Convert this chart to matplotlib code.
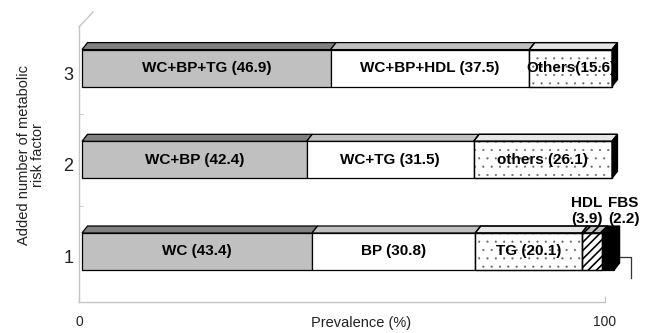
import matplotlib
matplotlib.use('Agg')
import matplotlib.pyplot as plt
from matplotlib.patches import Polygon
from matplotlib.lines import Line2D
from matplotlib.transforms import ScaledTranslation
import numpy as np

plt.rcParams['font.family'] = ['Liberation Sans', 'DejaVu Sans']
plt.rcParams['hatch.linewidth'] = 0.3

# data
rows = [1, 2, 3]
row_values = [
    [43.4, 30.8, 20.1, 3.9, 2.2],
    [42.4, 31.5, 26.1],
    [46.9, 37.5, 15.6],
]
row_labels = [
    ['WC (43.4)', 'BP (30.8)', 'TG (20.1)', 'HDL\n(3.9)', 'FBS\n(2.2)'],
    ['WC+BP (42.4)', 'WC+TG (31.5)', 'others (26.1)'],
    ['WC+BP+TG (46.9)', 'WC+BP+HDL (37.5)', 'Others(15.6)'],
]
row_kinds = [
    ['gray', 'white', 'dots', 'stripes', 'black'],
    ['gray', 'white', 'dots'],
    ['gray', 'white', 'dots'],
]
x_ticklabels = ['0', '100']
xlabel = 'Prevalence (%)'
ylabel = 'Added number of metabolic\nrisk factor'

# front colour, top colour, hatch, hatch colour
styles = {
    'gray': ('#c0c0c0', '#808080', None, None),
    'white': ('#ffffff', '#c0c0c0', None, None),
    'dots': ('#ffffff', '#e6e6e6', '..', '#666666'),
    'stripes': ('#ffffff', '#c0c0c0', '////', '#000000'),
    'black': ('#000000', '#000000', None, None),
}
axis_grey = '#c4c4c4'
text_col = '#222222'

W, H = 652, 333
fig = plt.figure(figsize=(W / 100, H / 100), dpi=100)
ax = fig.add_axes([79 / W, 31 / H, 526 / W, 275 / H])
px_x = 5.3    # pixels per percent
px_y = 91.7   # pixels per row
ax.set_xlim(-3 / px_x, 523 / px_x)
ax.set_ylim(1 - 50.5 / px_y, 1 + 224.5 / px_y)

bar_h = 37 / px_y
dx, dy = 5.5 / px_x, 7 / px_y


def set_hlw(p, lw):
    if hasattr(p, 'set_hatch_linewidth'):
        p.set_hatch_linewidth(lw)


def add_face(verts, face, hatch, hcol, hlw):
    ax.add_patch(Polygon(verts, closed=True, facecolor=face,
                         edgecolor='black', linewidth=0.9, zorder=2,
                         clip_on=False))
    if hatch:
        hp = Polygon(verts, closed=True, facecolor='none', edgecolor=hcol,
                     linewidth=0, hatch=hatch, zorder=2.1, clip_on=False)
        set_hlw(hp, hlw)
        ax.add_patch(hp)
        ax.add_patch(Polygon(verts, closed=True, facecolor='none',
                             edgecolor='black', linewidth=0.9, zorder=2.2,
                             clip_on=False))


for row, vals, labs, kinds in zip(rows, row_values, row_labels, row_kinds):
    lefts = np.concatenate([[0], np.cumsum(vals)[:-1]])
    n_small = 0
    for left, w, lab, kind in zip(lefts, vals, labs, kinds):
        front, top, hatch, hcol = styles[kind]
        hlw = 1.2 if kind == 'stripes' else 0.3
        bars = ax.barh(row, w, left=left, height=bar_h, color=front,
                       edgecolor='black', linewidth=0.9, zorder=2)
        for b in bars:
            b.set_clip_on(False)
            if hatch:
                hp = ax.barh(row, w, left=left, height=bar_h, color='none',
                             edgecolor=hcol, linewidth=0, hatch=hatch,
                             zorder=2.1)[0]
                hp.set_clip_on(False)
                set_hlw(hp, hlw)
                ax.barh(row, w, left=left, height=bar_h, color='none',
                        edgecolor='black', linewidth=0.9,
                        zorder=2.2)[0].set_clip_on(False)
        yt = row + bar_h / 2
        add_face([(left, yt), (left + w, yt), (left + w + dx, yt + dy),
                  (left + dx, yt + dy)], top, hatch, hcol, hlw)
        if w >= 5:
            ax.text(left + w / 2, row, lab, ha='center', va='center',
                    fontsize=11, fontweight='bold', color='black', zorder=4,
                    clip_on=False)
        else:
            xoff = [-4, 11][n_small]
            n_small += 1
            ax.annotate(lab, (left + w / 2, row), xytext=(xoff, 29),
                        textcoords='offset points', ha='center', va='center',
                        fontsize=11, fontweight='bold', color='black',
                        linespacing=1.15, zorder=4, annotation_clip=False)
    right = lefts[-1] + vals[-1]
    yb, yt = row - bar_h / 2, row + bar_h / 2
    ax.add_patch(Polygon([(right, yb), (right, yt), (right + dx, yt + dy),
                          (right + dx, yb + dy)], closed=True,
                         facecolor='#000000', edgecolor='black',
                         linewidth=0.9, zorder=2.3, clip_on=False))
    if row == 1:
        # small callout line at the end of the first bar
        xs = right + np.array([2, 17, 17]) / px_x
        ys = row - np.array([5.5, 5.5, 26.5]) / px_y
        ax.add_line(Line2D(xs, ys, color='#333333', linewidth=0.9, zorder=1,
                           clip_on=False))

# axes styling
for s in ['top', 'right']:
    ax.spines[s].set_visible(False)
for s in ['left', 'bottom']:
    ax.spines[s].set_color(axis_grey)
    ax.spines[s].set_linewidth(1.0)
ax.add_line(Line2D([0, 14 / 526], [1, 1 + 15 / 275], transform=ax.transAxes,
                   color=axis_grey, linewidth=1.0, clip_on=False))

lo, hi = ax.get_xlim()
ax.set_xticks([lo, hi], x_ticklabels)
ax.tick_params(axis='x', direction='in', length=4, color=axis_grey, pad=9,
               labelsize=10, labelcolor=text_col)
ax.set_yticks(rows, [str(r) for r in rows])
ax.set_yticks([1.5, 2.5], minor=True)
ax.tick_params(axis='y', which='major', length=0, pad=4, labelsize=13,
               labelcolor=text_col)
ax.tick_params(axis='y', which='minor', direction='in', length=3,
               color=axis_grey)
for lbl in ax.get_yticklabels():
    lbl.set_transform(lbl.get_transform() +
                      ScaledTranslation(0, -5 / 100, fig.dpi_scale_trans))

ax.set_xlabel(xlabel, fontsize=10.5, color=text_col)
ax.xaxis.set_label_coords(282 / 526, -0.05)
ax.set_ylabel(ylabel, fontsize=10.5, color=text_col, linespacing=1.0)
ax.yaxis.set_label_coords(-0.064, 0.536)

fig.savefig('out.png', dpi=100)
